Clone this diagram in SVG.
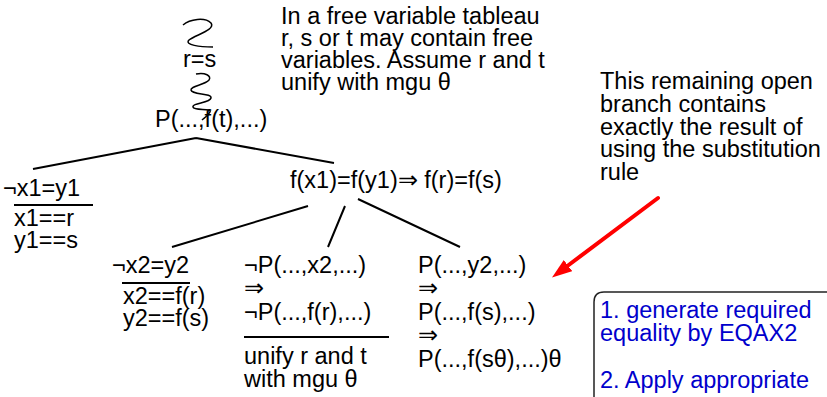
<svg xmlns="http://www.w3.org/2000/svg" width="827" height="397" viewBox="0 0 827 397">
<style>
text{font-family:"Liberation Sans",Arial,sans-serif;font-size:23.5px;fill:#000}
.blue{fill:#0000cc}
.ln{stroke:#000;stroke-width:2;fill:none}
.sq{stroke:#000;stroke-width:1.5;fill:none}
</style>
<defs>
<marker id="ah" markerWidth="22" markerHeight="16" refX="0" refY="7" orient="auto" markerUnits="userSpaceOnUse">
<path d="M0,0 L20,7 L0,14 z" fill="#ff0000"/>
</marker>
</defs>
<rect width="827" height="397" fill="#fff"/>
<g id="connectors">
<path class="sq" d="M183,25 C190,19 205,17 211,23 C216,30 195,35 189,40 C184,45 200,47 213,47"/>
<path class="sq" d="M196,74 C205,72 212,76 209,80 C205,85 190,86 191,90 C192,95 212,93 211,98 C210,103 192,103 193,107 C194,111 212,108 210,112 C208,116 204,118 202,120"/>
<path class="ln" d="M196,138 L33,169 M196,138 L334,163"/>
<path class="ln" d="M308,206 L172,247 M345,206 L328,247 M358,199 L460,247"/>
<path class="ln" d="M14,205 L93,205 M122,283 L190,283 M244,337 L389,337"/>
<path d="M658,198 L568,265.5" stroke="#ff0000" stroke-width="4" fill="none" stroke-linecap="round" marker-end="url(#ah)"/>
</g>
<g id="note-top">
<text x="281" y="24">In a free variable tableau</text>
<text x="281" y="46">r, s or t may contain free</text>
<text x="281" y="68">variables. Assume r and t</text>
<text x="281" y="90">unify with mgu θ</text>
</g>
<g id="node-rs"><text x="183" y="67">r=s</text></g>
<g id="node-p"><text x="155" y="127">P(...,f(t),...)</text></g>
<g id="note-right">
<text x="600" y="89">This remaining open</text>
<text x="600" y="112">branch contains</text>
<text x="600" y="135">exactly the result of</text>
<text x="600" y="157">using the substitution</text>
<text x="600" y="180">rule</text>
</g>
<g id="node-x1">
<text x="3" y="196">¬x1=y1</text>
<text x="14" y="226">x1==r</text>
<text x="14" y="248">y1==s</text>
</g>
<g id="node-f"><text x="290" y="188">f(x1)=f(y1)⇒ f(r)=f(s)</text></g>
<g id="node-x2">
<text x="112" y="273">¬x2=y2</text>
<text x="123" y="304">x2==f(r)</text>
<text x="123" y="326">y2==f(s)</text>
</g>
<g id="node-notp">
<text x="244" y="273">¬P(...,x2,...)</text>
<text x="244" y="296">⇒</text>
<text x="244" y="320">¬P(...,f(r),...)</text>
<text x="244" y="364">unify r and t</text>
<text x="244" y="387">with mgu θ</text>
</g>
<g id="node-p2">
<text x="418" y="273">P(...,y2,...)</text>
<text x="418" y="296">⇒</text>
<text x="418" y="320">P(...,f(s),...)</text>
<text x="418" y="343">⇒</text>
<text x="418" y="367">P(...,f(sθ),...)θ</text>
</g>
<g id="box">
<path d="M594,400 L594,302 Q594,292 604,292 L830,292" stroke="#222" stroke-width="1.5" fill="none"/>
<text class="blue" x="600" y="318">1. generate required</text>
<text class="blue" x="600" y="341">equality by EQAX2</text>
<text class="blue" x="600" y="388">2. Apply appropriate</text>
</g>
</svg>
